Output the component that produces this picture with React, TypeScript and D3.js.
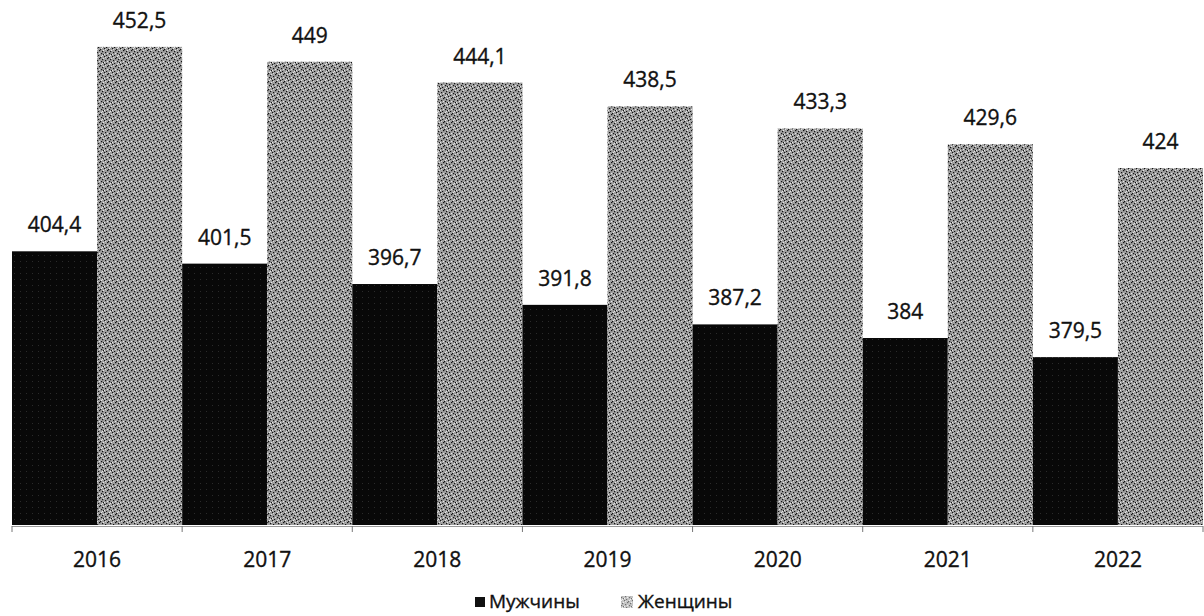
import React from "react";
import * as d3 from "d3";

const years = ["2016", "2017", "2018", "2019", "2020", "2021", "2022"];
const men = [404.4, 401.5, 396.7, 391.8, 387.2, 384, 379.5];
const women = [452.5, 449, 444.1, 438.5, 433.3, 429.6, 424];
const seriesNames = ["Мужчины", "Женщины"];
const yDomain = [340, 460];

const W = 1204;
const H = 616;
const FONT = "'Open Sans', 'Liberation Sans', sans-serif";

const fmt = (v: number) => String(v).replace(".", ",");

export default function App() {
  const x = d3.scaleBand<string>().domain(years).range([12, 1203]).padding(0);
  const inner = d3.scaleBand<string>().domain(["m", "w"]).range([0, x.bandwidth()]).padding(0);
  const y = d3.scaleLinear().domain(yDomain).range([525, 15]);
  const base = y(yDomain[0]);

  const dots: Array<[number, number]> = [
    [0, 0], [3, 2], [1, 4], [5, 5], [4, 1], [2, 7], [6, 3], [7, 6],
  ];
  const whites: Array<[number, number]> = [
    [1, 1], [5, 0], [3, 5], [6, 7], [0, 6], [7, 2],
  ];

  const textStyle = { fontFamily: FONT, fontSize: 21, fill: "#111", stroke: "#111", strokeWidth: 0.35 };

  return (
    <svg width={W} height={H} style={{ position: "absolute", left: 0, top: 0, background: "#fff" }}>
      <defs>
        <pattern id="wpat" width={8} height={8} patternUnits="userSpaceOnUse">
          <rect width={8} height={8} fill="#a0a0a0" />
          {whites.map(([a, b], i) => (
            <rect key={"w" + i} x={a} y={b} width={1} height={1} fill="#e8e8e8" />
          ))}
          {dots.map(([a, b], i) => (
            <rect key={"d" + i} x={a} y={b} width={1.2} height={1.2} fill="#111" />
          ))}
        </pattern>
        <pattern id="mpat" width={6} height={6} patternUnits="userSpaceOnUse">
          <rect width={6} height={6} fill="#080808" />
          <rect x={2} y={3} width={1} height={1} fill="#2a2a2a" />
        </pattern>
      </defs>

      {years.map((yr, i) => {
        const gx = x(yr)!;
        return (
          <g key={yr}>
            <rect x={gx + inner("m")!} y={y(men[i])} width={inner.bandwidth()} height={base - y(men[i])} fill="url(#mpat)" />
            <rect x={gx + inner("w")!} y={y(women[i])} width={inner.bandwidth()} height={base - y(women[i])} fill="url(#wpat)" />
            <text x={gx + inner("m")! + inner.bandwidth() / 2} y={y(men[i]) - 19} textAnchor="middle" {...textStyle}>
              {fmt(men[i])}
            </text>
            <text x={gx + inner("w")! + inner.bandwidth() / 2} y={y(women[i]) - 19} textAnchor="middle" {...textStyle}>
              {fmt(women[i])}
            </text>
            <text x={gx + x.bandwidth() / 2} y={567} textAnchor="middle" {...textStyle}>
              {yr}
            </text>
          </g>
        );
      })}

      <line x1={12} x2={1203} y1={base + 1.5} y2={base + 1.5} stroke="#999" strokeWidth={1} />
      {[...years.map((yr) => x(yr)!), 1203].map((tx, i) => (
        <line key={i} x1={tx} x2={tx} y1={base + 1} y2={base + 7} stroke="#777" strokeWidth={1} />
      ))}

      <g>
        <rect x={475} y={597} width={10} height={10} fill="#111" />
        <text x={489} y={608} {...textStyle} fontSize={19}>{seriesNames[0]}</text>
        <rect x={621} y={596} width={12} height={12} fill="url(#wpat)" opacity={0.6} />
        <text x={638} y={608} {...textStyle} fontSize={19}>{seriesNames[1]}</text>
      </g>
    </svg>
  );
}
